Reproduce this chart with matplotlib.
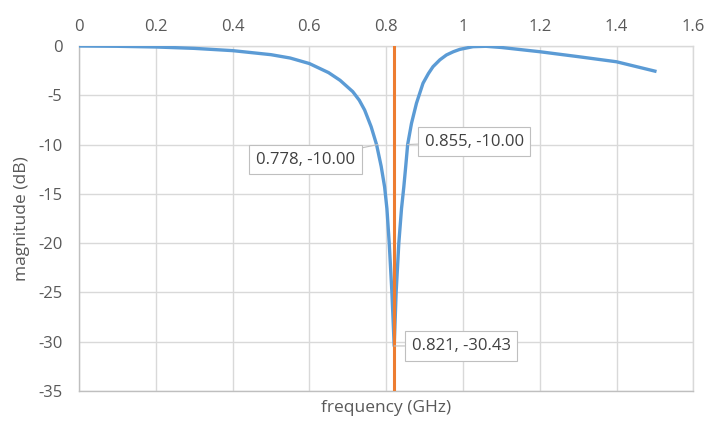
import numpy as np
import matplotlib
matplotlib.use("Agg")
import matplotlib.pyplot as plt

plt.rcParams["font.family"] = ["Open Sans", "DejaVu Sans"]
plt.rcParams["axes.unicode_minus"] = False

# Notch response
freq = [0.0, 0.1, 0.2, 0.3, 0.4, 0.5, 0.55, 0.6, 0.65, 0.68, 0.713, 0.73,
        0.744, 0.761, 0.775, 0.787, 0.796, 0.802, 0.808, 0.815, 0.821,
        0.826, 0.833, 0.84, 0.846, 0.851, 0.856, 0.866, 0.879, 0.896,
        0.91, 0.922, 0.94, 0.957, 0.975, 0.992, 1.026, 1.06, 1.1, 1.2,
        1.3, 1.4, 1.5]
mag = [0.0, -0.03, -0.1, -0.24, -0.47, -0.88, -1.22, -1.78, -2.7, -3.48,
       -4.63, -5.5, -6.5, -8.2, -10.0, -12.2, -14.3, -16.5, -20.0, -25.0,
       -30.43, -25.0, -20.0, -16.5, -14.3, -12.2, -10.0, -7.85, -5.8,
       -3.78, -2.8, -2.1, -1.4, -0.91, -0.58, -0.34, -0.07, -0.03, -0.15,
       -0.58, -1.08, -1.6, -2.55]

marker_f = 0.821
labels = [(0.778, -10.00), (0.855, -10.00), (0.821, -30.43)]
label_offsets = [(-72, -15), (67, 3), (67, 0)]

xticks = [0, 0.2, 0.4, 0.6, 0.8, 1.0, 1.2, 1.4, 1.6]
xticklabels = ["0", "0.2", "0.4", "0.6", "0.8", "1", "1.2", "1.4", "1.6"]
yticks = [0, -5, -10, -15, -20, -25, -30, -35]

txt = "#595959"
grid = "#d9d9d9"

fig = plt.figure(figsize=(7.1, 4.22), dpi=100)
ax = fig.add_axes([79 / 710, 1 - 391 / 422, 614.3 / 710, 345 / 422])

ax.plot(freq, mag, color="#5B9BD5", lw=2.4, solid_joinstyle="round", zorder=3)
ax.plot([marker_f, marker_f], [0, -35], color="#ED7D31", lw=2.2, zorder=4)

ax.set_xlim(0, 1.6)
ax.set_ylim(-35, 0)
ax.xaxis.tick_top()
ax.set_xticks(xticks)
ax.set_xticklabels(xticklabels)
ax.set_yticks(yticks)
ax.tick_params(axis="both", length=0, labelsize=12, labelcolor=txt)
ax.tick_params(axis="x", pad=8)
ax.tick_params(axis="y", pad=12)
ax.grid(True, color=grid, lw=1)
ax.set_axisbelow(True)
for s in ax.spines.values():
    s.set_color(grid)
    s.set_linewidth(1)
ax.spines["left"].set_color("#bfbfbf")
ax.spines["bottom"].set_color("#bfbfbf")

ax.set_xlabel("frequency (GHz)", fontsize=12.5, color=txt)
ax.xaxis.set_label_position("bottom")
ax.xaxis.set_label_coords(0.5, -0.05)
ax.xaxis.label.set_verticalalignment("center")
ax.set_ylabel("magnitude (dB)", fontsize=12.5, color=txt)
ax.yaxis.set_label_coords(-0.093, 0.5)
ax.yaxis.label.set_verticalalignment("center")

for (fx, fy), off in zip(labels, label_offsets):
    ax.annotate(f"{fx:.3f}, {fy:.2f}", xy=(fx, fy), xytext=off,
                textcoords="offset pixels", ha="center", va="center",
                fontsize=12, color="#404040", zorder=6,
                bbox=dict(boxstyle="square,pad=0.4", fc="white", ec="#bfbfbf", lw=0.8),
                arrowprops=dict(arrowstyle="-", color="#bfbfbf", lw=0.8,
                                shrinkA=0, shrinkB=0))

fig.savefig("out.png", dpi=100)
